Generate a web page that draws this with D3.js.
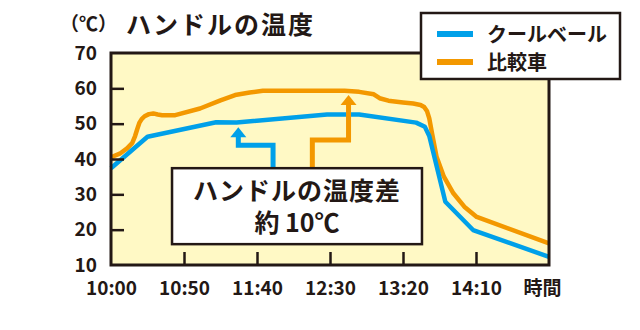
<!DOCTYPE html>
<html><head><meta charset="utf-8">
<script src="https://cdn.jsdelivr.net/npm/d3@7"></script>
<style>
html,body{margin:0;padding:0;background:#fff;}
svg text{font-family:"Noto Sans CJK JP","Noto Sans",sans-serif;fill:#231815;}
</style></head>
<body><svg id="c" width="640" height="330"></svg>
<script>
// ---- data ----
const seriesNames = ["クールベール", "比較車"];
const seriesColors = ["#00a0e9", "#f39800"];
const coolTimes = [0, 25, 72, 86, 148, 170, 209, 215, 218, 229, 248, 300];
const coolValues = [37.4, 46.3, 50.4, 50.3, 52.6, 52.6, 50.3, 49.1, 46.5, 27.9, 19.9, 12.3];
const compTimes = [0, 6, 11, 14.5, 16.5, 18, 19.5, 21, 23, 26, 29, 32, 35, 44, 61, 75, 85, 95, 104, 160, 170, 180, 184, 190, 200, 207, 212, 214.5, 216.5, 218, 220, 223, 228, 234.5, 242, 250.5, 300];
const compValues = [40.5, 41.5, 43, 44.5, 46.5, 48.5, 50.3, 51.3, 52.1, 52.7, 52.9, 52.6, 52.4, 52.4, 54.3, 56.6, 58.1, 58.8, 59.3, 59.3, 59, 58.3, 57.2, 56.5, 56.0, 55.7, 55.3, 54.7, 53.5, 51.5, 47, 40.6, 35, 30.3, 26.5, 23.6, 16.1];
const xTickMinutes = [0, 50, 100, 150, 200, 250];
const xTickLabels = ["10:00", "10:50", "11:40", "12:30", "13:20", "14:10"];
const xAxisTitle = "時間";
const yTicks = [10, 20, 30, 40, 50, 60, 70];
const unitLabel = "（℃）";
const title = "ハンドルの温度";
const noteLines = ["ハンドルの温度差", "約 10℃"];
// annotation anchors in data units (minutes, °C)
const blueArrow = [[111, 37.4], [111, 43.9], [87.2, 43.9], [87.2, 49.0]];
const orangeArrow = [[137.9, 37.4], [137.9, 45.4], [162.7, 45.4], [162.7, 58.1]];
const noteBox = {t0: 41.8, t1: 213, v0: 37.4, v1: 15.9};

// ---- layout ----
const ink = "#231815";
const svg = d3.select("#c");
const L = 111, R = 549, T = 53, B = 265;
const x = d3.scaleLinear().domain([0, 300]).range([L, R]);
const y = d3.scaleLinear().domain([10, 70]).range([B, T]);

svg.append("rect").attr("x", L).attr("y", T).attr("width", R - L).attr("height", B - T)
  .attr("fill", "#fff9c5");

// lines
const line = d3.line().x(d => x(d[0])).y(d => y(d[1]));
const cool = coolTimes.map((t, i) => [t, coolValues[i]]);
const comp = compTimes.map((t, i) => [t, compValues[i]]);
const g = svg.append("g");
g.append("path").datum(comp).attr("d", line)
  .attr("fill", "none").attr("stroke", seriesColors[1]).attr("stroke-width", 4.5)
  .attr("stroke-linejoin", "round");
g.append("path").datum(cool).attr("d", line)
  .attr("fill", "none").attr("stroke", seriesColors[0]).attr("stroke-width", 4.5)
  .attr("stroke-linejoin", "round");

// arrows
function arrow(pts, color) {
  const p = pts.map(d => [x(d[0]), y(d[1])]);
  const tip = p[p.length - 1];
  const shaft = p.slice(0, -1).concat([[tip[0], tip[1] + 8]]);
  svg.append("path").attr("d", d3.line()(shaft)).attr("fill", "none")
    .attr("stroke", color).attr("stroke-width", 5).attr("stroke-linejoin", "miter");
  svg.append("path").attr("d", `M${tip[0]},${tip[1]}L${tip[0] - 8},${tip[1] + 10}L${tip[0] + 8},${tip[1] + 10}Z`)
    .attr("fill", color);
}
arrow(blueArrow, seriesColors[0]);
arrow(orangeArrow, seriesColors[1]);

// note box
svg.append("rect").attr("x", x(noteBox.t0)).attr("y", y(noteBox.v0))
  .attr("width", x(noteBox.t1) - x(noteBox.t0)).attr("height", y(noteBox.v1) - y(noteBox.v0))
  .attr("fill", "#fff").attr("stroke", ink).attr("stroke-width", 2.5);
const cx = (x(noteBox.t0) + x(noteBox.t1)) / 2;
svg.append("text").attr("x", cx).attr("y", y(noteBox.v0) + 32).attr("text-anchor", "middle")
  .attr("font-size", 25).attr("font-weight", 700).attr("letter-spacing", 1).text(noteLines[0]);
svg.append("text").attr("x", cx).attr("y", y(noteBox.v0) + 64).attr("text-anchor", "middle")
  .attr("font-size", 25).attr("font-weight", 700).text(noteLines[1]);

// axes
const yAxis = d3.axisLeft(y).tickValues(yTicks).tickSize(-13).tickPadding(14).tickFormat(d3.format("d"));
const ya = svg.append("g").attr("transform", `translate(${L},0)`).call(yAxis);
ya.select(".domain").remove();
ya.selectAll(".tick line").attr("stroke", ink).attr("stroke-width", 2.5)
  .filter(d => d === 10 || d === 70).remove();
ya.selectAll(".tick text").attr("font-size", 19).attr("font-weight", 700).attr("fill", ink)
  .attr("font-family", "'Noto Sans CJK JP', sans-serif");

const xAxis = d3.axisBottom(x).tickValues(xTickMinutes.concat([300])).tickSize(-13).tickPadding(17)
  .tickFormat((d, i) => i < xTickLabels.length ? xTickLabels[i] : xAxisTitle);
const xa = svg.append("g").attr("transform", `translate(0,${B})`).call(xAxis);
xa.select(".domain").remove();
xa.selectAll(".tick line").attr("stroke", ink).attr("stroke-width", 2.5)
  .filter(d => d === 0 || d === 300).remove();
xa.selectAll(".tick text").attr("font-size", 19).attr("font-weight", 700).attr("fill", ink)
  .attr("font-family", "'Noto Sans CJK JP', sans-serif")
  .attr("dx", d => d === 300 ? -7 : 0);

// frame
svg.append("rect").attr("x", L).attr("y", T).attr("width", R - L).attr("height", B - T)
  .attr("fill", "none").attr("stroke", ink).attr("stroke-width", 3);

// titles
svg.append("text").attr("x", 60).attr("y", 31).attr("font-size", 19).attr("font-weight", 700).text(unitLabel);
svg.append("text").attr("x", 126).attr("y", 34).attr("font-size", 25).attr("font-weight", 700)
  .attr("letter-spacing", 2).text(title);

// legend
svg.append("rect").attr("x", 421).attr("y", 13).attr("width", 199).attr("height", 66)
  .attr("fill", "#fff").attr("stroke", ink).attr("stroke-width", 2.5);
seriesNames.forEach((n, i) => {
  const ly = 34 + i * 28;
  svg.append("line").attr("x1", 437).attr("x2", 473).attr("y1", ly).attr("y2", ly)
    .attr("stroke", seriesColors[i]).attr("stroke-width", 6);
  svg.append("text").attr("x", 487).attr("y", ly + 8).attr("font-size", 20).attr("font-weight", 700).text(n);
});
</script></body></html>
